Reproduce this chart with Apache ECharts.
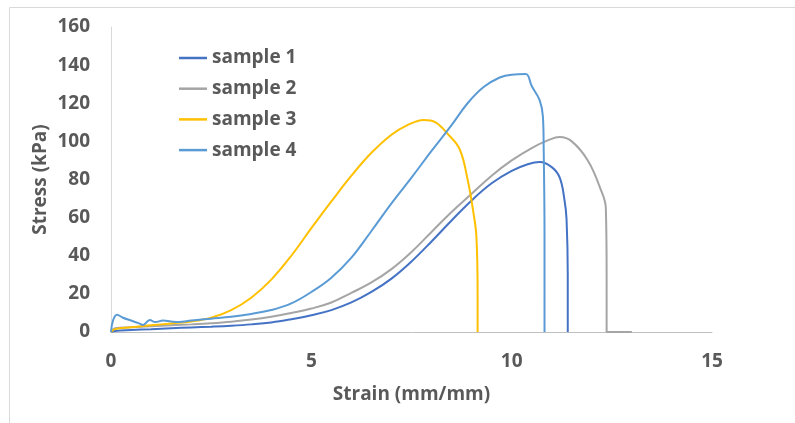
<!DOCTYPE html>
<html>
<head>
<meta charset="utf-8">
<script src="https://cdn.jsdelivr.net/npm/echarts@6/dist/echarts.min.js"></script>
<style>
html,body{margin:0;padding:0;background:#fff;}
#chart{width:795px;height:423px;}
</style>
</head>
<body>
<div id="chart"></div>
<script>
// ---- data ----
var seriesNames = ['sample 1', 'sample 2', 'sample 3', 'sample 4'];
var xTicks = [0, 5, 10, 15];
var yTicks = [0, 20, 40, 60, 80, 100, 120, 140, 160];

var s1Strain = [0, 0.1, 0.5, 1, 1.5, 2, 2.5, 3, 3.5, 4, 4.5, 5, 5.5, 6, 6.5, 7, 7.5, 8, 8.5, 9, 9.5, 10, 10.4, 10.7, 11, 11.2, 11.32, 11.37, 11.4, 11.4];
var s1Stress = [0, 0.5, 1, 1.5, 2, 2.4, 2.8, 3.3, 4, 5, 6.7, 8.8, 11.5, 15.5, 21, 28, 37, 47.5, 58.5, 69, 78, 84.5, 88, 89.2, 86.5, 81, 69, 59, 30, 0];

var s2Strain = [0, 0.1, 0.5, 1, 1.5, 2, 2.5, 3, 3.5, 4, 4.5, 5, 5.5, 6, 6.5, 7, 7.5, 8, 8.5, 9, 9.5, 10, 10.5, 10.9, 11.2, 11.5, 11.9, 12.2, 12.35, 12.37, 12.37, 13];
var s2Stress = [0, 2, 2.5, 3, 3.5, 4, 4.6, 5.4, 6.5, 8, 10, 12.3, 15.5, 20.5, 26, 33, 42, 52.5, 63, 72.5, 82, 90, 96.5, 100.5, 102.3, 100, 90, 76, 65, 30, 0, 0];

var s3Strain = [0, 0.1, 0.5, 1, 1.5, 2, 2.5, 3, 3.5, 4, 4.5, 5, 5.5, 6, 6.5, 7, 7.4, 7.8, 8.1, 8.4, 8.7, 8.9, 9.05, 9.12, 9.15, 9.15];
var s3Stress = [0, 1.5, 2.5, 3.5, 4.5, 5.5, 7.5, 11.5, 18, 27.5, 40, 54.5, 68.5, 82, 94, 103.5, 108.5, 111.2, 110, 104, 96, 80, 62, 50, 20, 0];

var s4Strain = [0, 0.05, 0.15, 0.3, 0.5, 0.7, 0.8, 0.97, 1.1, 1.3, 1.5, 1.7, 2, 2.5, 3, 3.5, 4, 4.5, 5, 5.5, 6, 6.5, 7, 7.5, 8, 8.5, 8.9, 9.3, 9.7, 10, 10.35, 10.5, 10.7, 10.78, 10.8, 10.82, 10.82];
var s4Stress = [0, 6, 9, 7.5, 6, 4.5, 3.7, 6.3, 5.2, 6, 5.5, 5.2, 6, 7, 8, 9.5, 11.5, 15, 21, 28.5, 39, 53, 67.5, 81, 95, 108.5, 120, 128.5, 133.5, 135, 135.3, 129, 121.5, 113, 95, 50, 0];

var colors = ['#4472C4', '#A5A5A5', '#FFC000', '#5B9BD5'];

function pairs(xs, ys) {
  var out = [];
  for (var i = 0; i < xs.length; i++) out.push([xs[i], ys[i]]);
  return out;
}
var allData = [pairs(s1Strain, s1Stress), pairs(s2Strain, s2Stress), pairs(s3Strain, s3Stress), pairs(s4Strain, s4Stress)];

var FONT = '"Open Sans"';
var TXT = '#595959';
var FS = 19;

var chart = echarts.init(document.getElementById('chart'), null, {renderer: 'canvas'});
chart.setOption({
  animation: false,
  backgroundColor: '#ffffff',
  color: colors,
  graphic: [{
    type: 'rect',
    left: 7, top: 5,
    shape: {width: 800, height: 416},
    style: {fill: 'none', stroke: '#d9d9d9', lineWidth: 1},
    silent: true
  }],
  grid: {left: 111, right: 83, top: 27, bottom: 91, containLabel: false},
  legend: {
    orient: 'vertical',
    left: 174,
    top: 43,
    icon: 'rect',
    itemWidth: 28,
    itemHeight: 2.5,
    itemGap: 10.7,
    data: seriesNames,
    textStyle: {fontFamily: FONT, fontWeight: 'bold', fontSize: FS, color: TXT, lineHeight: 20}
  },
  xAxis: {
    type: 'value',
    min: xTicks[0], max: xTicks[xTicks.length - 1], interval: 5,
    name: 'Strain (mm/mm)',
    nameLocation: 'middle',
    nameGap: 53,
    nameMoveOverlap: false,
    nameTextStyle: {fontFamily: FONT, fontWeight: 'bold', fontSize: FS, color: TXT},
    axisLine: {show: true, lineStyle: {color: '#BFBFBF', width: 1}},
    axisTick: {show: false},
    splitLine: {show: false},
    axisLabel: {fontFamily: FONT, fontWeight: 'bold', fontSize: FS, color: TXT, margin: 20}
  },
  yAxis: {
    type: 'value',
    min: yTicks[0], max: yTicks[yTicks.length - 1], interval: 20,
    name: 'Stress (kPa)',
    nameLocation: 'middle',
    nameGap: 61,
    nameMoveOverlap: false,
    nameTextStyle: {fontFamily: FONT, fontWeight: 'bold', fontSize: FS, color: TXT},
    axisLine: {show: true, lineStyle: {color: '#D9D9D9', width: 1}},
    axisTick: {show: false},
    splitLine: {show: false},
    axisLabel: {fontFamily: FONT, fontWeight: 'bold', fontSize: FS, color: TXT, margin: 21}
  },
  series: seriesNames.map(function (n, i) {
    return {
      name: n,
      type: 'line',
      data: allData[i],
      showSymbol: false,
      symbol: 'none',
      smooth: 0.4,
      lineStyle: {width: 2, color: colors[i]},
      itemStyle: {color: colors[i]},
      z: 2 + i
    };
  })
});
</script>
</body>
</html>
